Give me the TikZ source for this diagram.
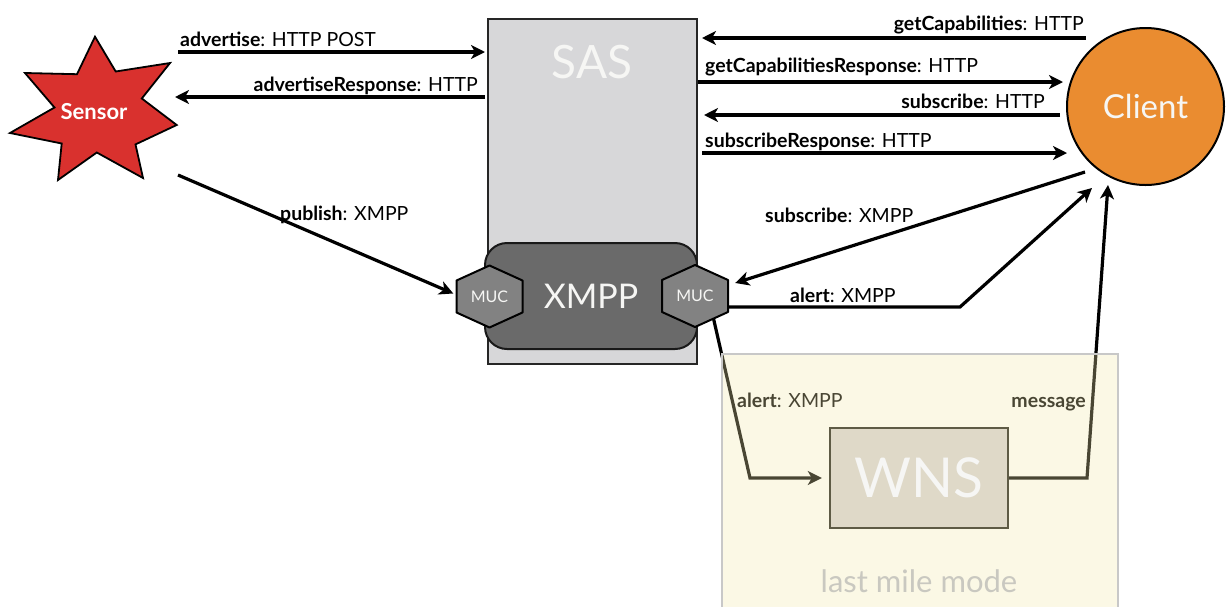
\documentclass[tikz,border=0pt]{standalone}
\usepackage{fontspec}
\setmainfont{Lato}
\usetikzlibrary{shapes.geometric,arrows.meta,calc}
\definecolor{sasfill}{HTML}{D7D7D9}
\definecolor{xmppfill}{HTML}{6A6A6A}
\definecolor{mucfill}{HTML}{828282}
\definecolor{sensorred}{HTML}{D9312E}
\definecolor{clientorange}{HTML}{EA8C30}
\definecolor{lastmile}{RGB}{242,232,172}
\definecolor{wnsfill}{HTML}{DFD9C8}
\definecolor{wnsdraw}{HTML}{5E5B45}
\definecolor{lmtext}{HTML}{C9C8C0}
\definecolor{lmborder}{HTML}{C8C8C8}
\definecolor{softwhite}{HTML}{F6F6F4}
\begin{document}
\begin{tikzpicture}[x=1pt,y=-1pt,
  arr/.style={line width=3.2pt,-{Stealth[length=14pt,width=14pt,inset=4pt]}},
  lbl/.style={font=\fontsize{19.5}{22}\selectfont,inner sep=0pt},
  hexstyle/.style={fill=mucfill,draw=black,line width=2pt,line join=round},
  muctext/.style={minimum width=66pt,minimum height=62pt,inner sep=0pt,text=softwhite,font=\fontsize{16}{18}\selectfont},
  bigtext/.style={text=softwhite,inner sep=0pt}]
\useasboundingbox (0,0) rectangle (1226,606);
\fill[white] (0,0) rectangle (1226,606);

% SAS and XMPP
\node[draw=black!85,fill=sasfill,line width=2pt,minimum width=209pt,minimum height=345pt,inner sep=0pt] (sas) at (592.5,191.5) {};
\node[bigtext,font=\fontsize{46}{50}\selectfont] (sastext) at (592,62) {SAS};
\node[draw=black!90,fill=xmppfill,line width=2pt,rounded corners=22pt,minimum width=212pt,minimum height=106pt,inner sep=0pt,text=softwhite,font=\fontsize{34}{38}\selectfont] (xmpp) at (591,296) {XMPP};

% Sensor star
\draw[fill=sensorred,draw=black,line width=1.8pt,line join=miter]
  (95,36.7) -- (115.7,71.5) -- (170,63) -- (141.8,98.5) -- (176.7,125) -- (135.5,144.4)
  -- (143,178) -- (96.8,152.5) -- (58,180) -- (61.7,143.5) -- (10,133) -- (54.5,107.5)
  -- (25,73) -- (77,74.2) -- cycle;
\node[text=white,font=\bfseries\fontsize{22}{24}\selectfont,minimum width=150pt,minimum height=140pt,inner sep=0pt] (sensor) at (94,112) {Sensor};

% Client
\node[circle,minimum size=157pt,inner sep=0pt,fill=clientorange,draw=black,line width=2pt,text=softwhite,font=\fontsize{33}{36}\selectfont] (client) at (1145.5,106.5) {Client};

\coordinate (mR) at (695,296);
\coordinate (mL) at (489.5,296.5);
\coordinate (alertDownStart) at (712,312);
\coordinate (alertDownCorner) at (750,478);
\coordinate (msgCorner) at (1087,478);
\coordinate (msgTip) at (1108,185);

% WNS anchor node (the visible WNS box is drawn later on top)
\path (919,478) node[minimum width=178pt,minimum height=100pt,inner sep=0pt] (wnsanchor) {};

% lines under hexagon / last mile overlay
\draw[arr] (alertDownStart) -- (alertDownCorner) -- ([xshift=-8pt]wnsanchor.west);
\draw[arr] (wnsanchor.east) -- (msgCorner) -- (msgTip);

% hexagons
\newcommand\hexat[1]{\draw[hexstyle] ($(#1)+(0,-31)$) -- ($(#1)+(33,-16)$) -- ($(#1)+(33,16)$) -- ($(#1)+(0,31)$) -- ($(#1)+(-33,16)$) -- ($(#1)+(-33,-16)$) -- cycle;}
\hexat{mL}
\hexat{mR}
\node[muctext] (mucL) at (mL) {MUC};
\node[muctext] (mucR) at (mR) {MUC};

% HTTP arrows on the left
\coordinate (advS) at (178,52);
\coordinate (advR) at (175,97);
\draw[arr] (advS) -- ([xshift=-2pt]advS -| sas.west);
\draw[arr] ([xshift=-2pt]advR -| sas.west) -- (advR);
\node[lbl,anchor=base west] (advlbl) at (180,46) {\textbf{advertise}: HTTP POST};
\node[lbl,anchor=base east] (advrlbl) at (478,91) {\textbf{advertiseResponse}: HTTP};

% HTTP arrows on the right
\coordinate (gc) at (1086,38);
\coordinate (gcr) at (1063,82);
\coordinate (sh) at (1060,115);
\coordinate (sr) at (1067,153);
\draw[arr] (gc) -- ([xshift=4pt]gc -| sas.east);
\draw[arr] (gcr -| sas.east) -- (gcr);
\draw[arr] (sh) -- ([xshift=6pt]sh -| sas.east);
\draw[arr] ([xshift=4pt]sr -| sas.east) -- (sr);
\node[lbl,anchor=base east] (gclbl) at (1084,30) {\textbf{getCapabilities}: HTTP};
\node[lbl,anchor=base west] (gcrlbl) at (705,72) {\textbf{getCapabilitiesResponse}: HTTP};
\node[lbl,anchor=base east] (shlbl) at (1045,108) {\textbf{subscribe}: HTTP};
\node[lbl,anchor=base west] (srlbl) at (705,147) {\textbf{subscribeResponse}: HTTP};

% XMPP arrows
\coordinate (pubS) at (178,175);
\draw[arr] (pubS) -- ([xshift=-3pt,yshift=3pt]mucL.west);
\node[lbl,anchor=base west] (publbl) at (280,220) {\textbf{publish}: XMPP};

\coordinate (subX) at (1085,172);
\draw[arr] (subX) -- ($(mucR.east)+(7,-13)$);
\node[lbl,anchor=base west] (subxlbl) at (765,222) {\textbf{subscribe}: XMPP};

\coordinate (alertCorner) at (960,307);
\coordinate (alertTip) at (1092,188);
\draw[arr] ($(mucR.east)+(0,11)$) -- (alertCorner) -- (alertTip);
\node[lbl,anchor=base west] (alertlbl) at (790,302) {\textbf{alert}: XMPP};

% labels inside last mile area
\node[lbl,anchor=base west] (alert2lbl) at (737,407) {\textbf{alert}: XMPP};
\node[lbl,anchor=base east] (msglbl) at (1086,407) {\textbf{message}};

% last mile overlay
\fill[lastmile,fill opacity=0.3] (722,354) rectangle (1118,610);
\draw[lmborder,line width=2pt] (722,610) -- (722,354) -- (1118,354) -- (1118,610);
\node[text=lmtext,font=\fontsize{31}{34}\selectfont,anchor=base] (lmlbl) at (919,592) {last mile mode};

% WNS
\node[draw=wnsdraw,fill=wnsfill,line width=2.5pt,minimum width=178pt,minimum height=100pt,inner sep=0pt,text=softwhite,font=\fontsize{55}{60}\selectfont] (wns) at (wnsanchor) {WNS};
\end{tikzpicture}
\end{document}
